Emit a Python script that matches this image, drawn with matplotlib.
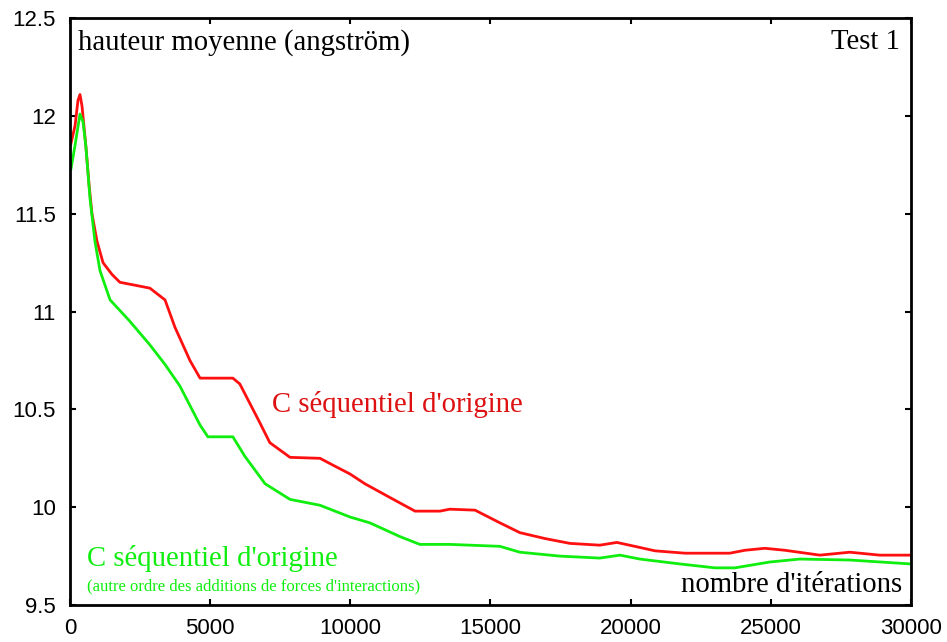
import matplotlib
matplotlib.use('Agg')
from matplotlib import pyplot as plt

# iterations / hauteur moyenne
iter_red = [36, 180, 285, 357, 430, 570, 680, 785, 963, 1180, 1500, 1780, 2500, 2850,
            3390, 3745, 4280, 4640, 5810, 6060, 6780, 7130, 7850, 8920, 9450, 9990,
            10520, 11410, 12310, 13200, 13550, 14450, 15340, 16050, 16940, 17840,
            18900, 19510, 20150, 20870, 21940, 23540, 24080, 24790, 25500, 26750,
            27820, 28890, 30000]
h_red = [11.86, 11.95, 12.08, 12.11, 12.05, 11.84, 11.65, 11.50, 11.36, 11.25, 11.19,
         11.15, 11.13, 11.12, 11.06, 10.92, 10.75, 10.66, 10.66, 10.63, 10.43, 10.33,
         10.255, 10.25, 10.21, 10.17, 10.12, 10.05, 9.98, 9.98, 9.99, 9.985, 9.92,
         9.87, 9.84, 9.815, 9.806, 9.82, 9.80, 9.777, 9.765, 9.765, 9.78, 9.79, 9.78,
         9.755, 9.77, 9.755, 9.755]

iter_green = [36, 180, 357, 465, 570, 713, 890, 1070, 1430, 2140, 2850, 3390, 3920,
              4640, 4920, 5810, 6240, 6960, 7850, 8920, 9990, 10700, 11770, 12480,
              13550, 15340, 16050, 17480, 18900, 19620, 20330, 21760, 23010, 23720,
              24970, 26040, 27820, 30000]
h_green = [11.73, 11.85, 12.01, 11.97, 11.84, 11.58, 11.36, 11.21, 11.06, 10.95, 10.83,
           10.73, 10.62, 10.42, 10.36, 10.36, 10.26, 10.12, 10.04, 10.01, 9.95, 9.92,
           9.85, 9.81, 9.81, 9.80, 9.77, 9.75, 9.74, 9.755, 9.735, 9.71, 9.69, 9.69,
           9.72, 9.735, 9.73, 9.71]

xticks = [0, 5000, 10000, 15000, 20000, 25000, 30000]
yticks = [9.5, 10, 10.5, 11, 11.5, 12, 12.5]

RED = '#ff1010'
GREEN = '#10ee10'

fig = plt.figure(figsize=(9.47, 6.42), dpi=100)
ax = fig.add_axes([0.0739, 0.0576, 0.888, 0.914])

ax.plot(iter_red, h_red, color=RED, lw=2)
ax.plot(iter_green, h_green, color=GREEN, lw=2)

ax.set_xlim(0, 30000)
ax.set_ylim(9.5, 12.5)
ax.set_xticks(xticks)
ax.set_yticks(yticks)
ax.set_xticklabels([str(t) for t in xticks])
ax.set_yticklabels(['9.5', '10', '10.5', '11', '11.5', '12', '12.5'])
ax.tick_params(direction='in', length=4, width=1.5, top=True, right=True,
               labelsize=16)
ax.tick_params(axis='x', pad=9)
ax.tick_params(axis='y', pad=10)
for lab in ax.get_xticklabels() + ax.get_yticklabels():
    lab.set_fontfamily('Liberation Sans')
for s in ax.spines.values():
    s.set_linewidth(2)

serif = 'Liberation Serif'
fs = 20.7
ax.text(0.0095, 0.946, "hauteur moyenne (angstr\u00f6m)", transform=ax.transAxes,
        family=serif, fontsize=fs, va='baseline', ha='left')
ax.text(0.987, 0.948, "Test 1", transform=ax.transAxes,
        family=serif, fontsize=fs, va='baseline', ha='right')
ax.text(0.240, 0.329, "C s\u00e9quentiel d'origine", transform=ax.transAxes,
        family=serif, fontsize=fs, color='#dd1111', va='baseline', ha='left')
ax.text(0.020, 0.0665, "C s\u00e9quentiel d'origine", transform=ax.transAxes,
        family=serif, fontsize=fs, color=GREEN, va='baseline', ha='left')
ax.text(0.020, 0.0256, "(autre ordre des additions de forces d'interactions)",
        transform=ax.transAxes, family=serif, fontsize=12, color=GREEN,
        va='baseline', ha='left')
ax.text(0.990, 0.022, "nombre d'it\u00e9rations", transform=ax.transAxes,
        family=serif, fontsize=fs, va='baseline', ha='right')

fig.savefig('out.png', dpi=100)
